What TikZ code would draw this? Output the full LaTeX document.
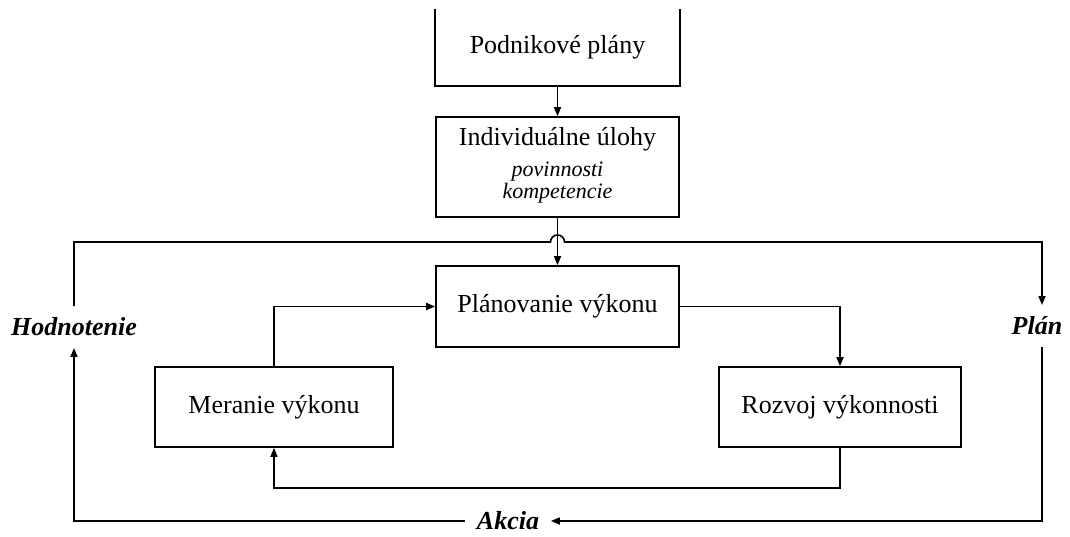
\documentclass[tikz,border=0pt]{standalone}
\usepackage{fontspec}
\setmainfont{Liberation Serif}
\usetikzlibrary{arrows.meta}

\begin{document}
\begin{tikzpicture}[x=1pt, y=-1pt, line width=1.6pt,
    box/.style={draw, minimum width=243pt, minimum height=81pt, inner sep=0pt,
      font=\fontsize{26}{31}\selectfont},
    loopLabel/.style={inner sep=11pt, font=\fontsize{26}{31}\selectfont\bfseries\itshape},
    >={Triangle[length=9pt,width=7pt]}]
  \useasboundingbox (0,0) rectangle (1070,536);

  % Boxes
  \node[box, draw=none, minimum height=75pt] (plany) at (557.5,47.5) {Podnikové plány};
  \draw (plany.north west) |- (plany.south east) -- (plany.north east);

  \node[box, minimum height=100pt] (ulohy) at (557.5,167) {};
  \node[anchor=base, font=\fontsize{26}{31}\selectfont] (ulohyT) at (557.5,145) {Individuálne úlohy};
  \node[anchor=base, font=\fontsize{22}{26}\selectfont\itshape] (ulohyA) at (557.5,176) {povinnosti};
  \node[anchor=base, font=\fontsize{22}{26}\selectfont\itshape] (ulohyB) at (557.5,198) {kompetencie};

  \node[box] (planovanie) at (557.5,306.5) {Plánovanie výkonu};
  \node[box, minimum width=238pt, minimum height=80pt] (meranie) at (274,407) {Meranie výkonu};
  \node[box, minimum width=242pt, minimum height=80pt] (rozvoj) at (840,407) {Rozvoj výkonnosti};

  % Outer labels
  \node[loopLabel] (hodn) at (74,327) {Hodnotenie};
  \node[loopLabel] (plan) at (1037,326) {Plán};
  \node[loopLabel, inner ysep=1pt] (akcia) at (508,521) {Akcia};

  \coordinate (skok) at (557.5,242);
  \coordinate (pravo) at (1042,242);
  \coordinate (dole) at (557.5,488);

  % Inner cycle
  \draw[->] (plany) -- (ulohy);
  \draw[->] (ulohy) -- (planovanie);
  \draw[->] (meranie.north) |- (planovanie.west);
  \draw[->] (planovanie.east) -| (rozvoj.north);
  \draw[->] (rozvoj.south) |- (dole) -| (meranie.south);

  % Outer cycle
  \draw[->] (hodn.north) |- ([xshift=-7pt]skok) arc (180:360:7) -- (pravo) -- (pravo |- plan.north);
  \draw[->] (plan.south -| pravo) |- (akcia.east);
  \draw[->] (akcia.west) -| (hodn.south);
\end{tikzpicture}
\end{document}
